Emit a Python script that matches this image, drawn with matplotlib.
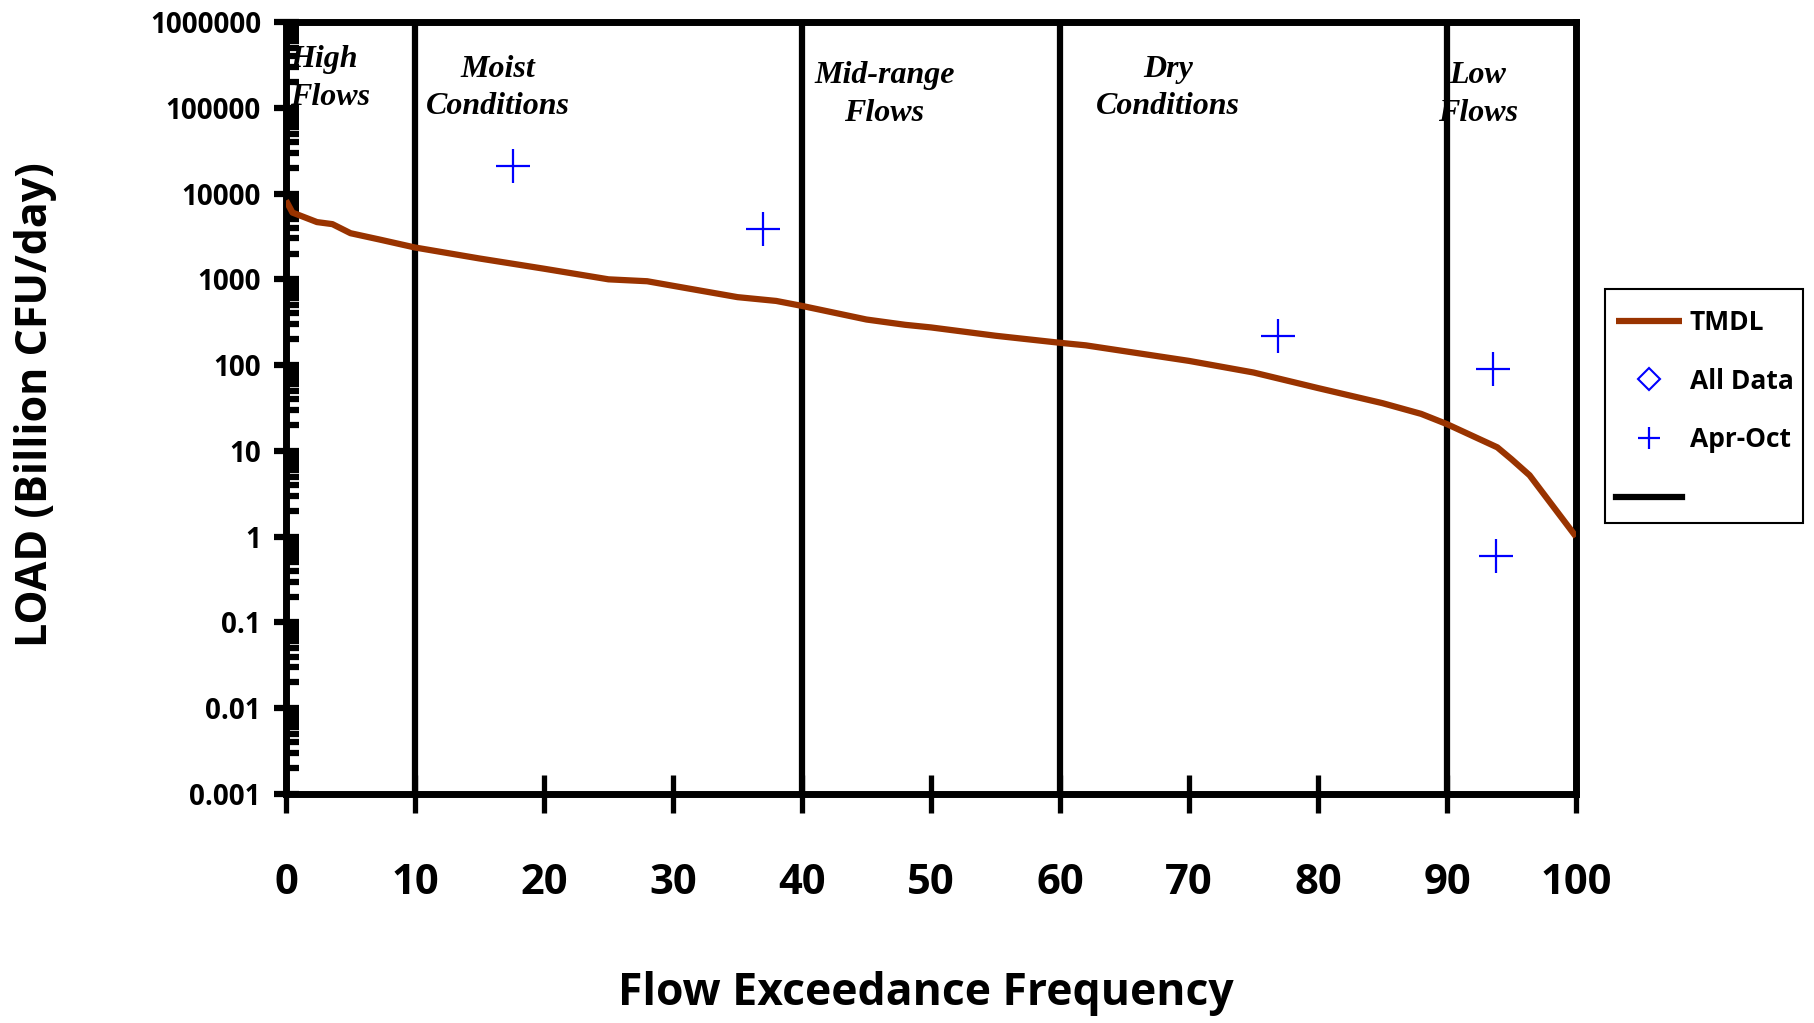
import matplotlib
matplotlib.use("Agg")
import matplotlib.pyplot as plt
from matplotlib.lines import Line2D
from matplotlib.patches import Rectangle
from matplotlib.ticker import FixedLocator, FixedFormatter, LogLocator, NullFormatter

# ---- data ----
tmdl_x = [0, 0.5, 2.4, 3.6, 5, 7.3, 10, 15, 20, 25, 28, 35, 38, 40, 45, 48, 50, 55, 60, 62,
          70, 75, 80, 85, 88, 90, 93.9, 95, 96.4, 100]
tmdl_y = [8300, 6000, 4650, 4400, 3450, 2900, 2350, 1750, 1330, 1000, 950, 620, 560,
          490, 340, 295, 275, 220, 182, 170, 112, 82, 54, 36, 27, 20.5, 11, 8, 5.2, 1.0]
aprocat_x = [17.6, 37.0, 76.9, 93.6, 93.8]
aprocat_y = [21000, 3850, 221, 89, 0.59]
alldata_x = []
alldata_y = []
boundaries = [10, 40, 60, 90]
region_labels = ["High\nFlows", "Moist\nConditions", "Mid-range\nFlows", "Dry\nConditions", "Low\nFlows"]
region_x = [0.3, 16.4, 46.4, 68.4, 92.4]
region_y = [2.2e5, 1.7e5, 1.43e5, 1.7e5, 1.43e5]
region_ha = ["left", "center", "center", "center", "center"]
ytick_vals = [0.001, 0.01, 0.1, 1, 10, 100, 1000, 10000, 100000, 1000000]
ytick_labels = ["0.001", "0.01", "0.1", "1", "10", "100", "1000", "10000", "100000", "1000000"]
xtick_vals = [0, 10, 20, 30, 40, 50, 60, 70, 80, 90, 100]

W, H = 1815, 1023
fig = plt.figure(figsize=(W / 100, H / 100), dpi=100)
ax = fig.add_axes([286 / W, 1 - 794 / H, (1576 - 286) / W, (794 - 22) / H])

SANS = "Open Sans"
BROWN = "#993300"
LW = 4.5

ax.set_yscale("log")
ax.set_xlim(0, 100)
ax.set_ylim(1e-3, 1e6)

# vertical boundaries
for b in boundaries:
    ax.axvline(b, color="black", lw=LW, zorder=2)

tmdl_line, = ax.plot(tmdl_x, tmdl_y, color=BROWN, lw=LW, solid_capstyle="butt", zorder=3, label="TMDL")
alld, = ax.plot(alldata_x, alldata_y, ls="none", marker="D", mfc="none", mec="blue", ms=11, mew=1.5,
                label="All Data")
apr, = ax.plot(aprocat_x, aprocat_y, ls="none", marker="+", color="blue", ms=25, mew=1.6, zorder=4,
               label="Apr-Oct")

for s in ax.spines.values():
    s.set_linewidth(5)
    s.set_color("black")

ax.yaxis.set_major_locator(FixedLocator(ytick_vals))
ax.yaxis.set_major_formatter(FixedFormatter(ytick_labels))
ax.yaxis.set_minor_locator(LogLocator(base=10, subs=range(2, 10), numticks=20))
ax.yaxis.set_minor_formatter(NullFormatter())
ax.tick_params(axis="y", which="major", direction="inout", length=18, width=LW, pad=9)
ax.tick_params(axis="y", which="minor", direction="in", length=9, width=LW)
ax.set_xticks(xtick_vals)
ax.tick_params(axis="x", which="major", direction="inout", length=27, width=3.8, pad=36)
for lab in ax.get_yticklabels():
    lab.set_fontfamily(SANS); lab.set_fontweight("bold"); lab.set_fontsize(20)
for lab in ax.get_xticklabels():
    lab.set_fontfamily(SANS); lab.set_fontweight("bold"); lab.set_fontsize(30)
for t in ax.yaxis.get_ticklines(minor=False) + ax.yaxis.get_ticklines(minor=True) + ax.xaxis.get_ticklines():
    t.set_solid_capstyle("round")

for lab, x, y, ha in zip(region_labels, region_x, region_y, region_ha):
    ax.text(x, y, lab, ha=ha, va="center", fontsize=23, fontweight="bold", fontstyle="italic",
            family="Liberation Serif", linespacing=1.4, zorder=5)

fig.text(926 / W, 1 - 993 / H, "Flow Exceedance Frequency", ha="center", va="center",
         fontsize=32, fontweight="bold", family=SANS)
fig.text(36 / W, 1 - 405 / H, "LOAD (Billion CFU/day)", ha="center", va="center", rotation=90,
         fontsize=31, fontweight="bold", family=SANS)

black_handle = Line2D([], [], color="black", lw=LW)
leg = fig.legend(handles=[tmdl_line, alld, apr, black_handle],
                 labels=["TMDL", "All Data", "Apr-Oct", ""],
                 loc="upper left", bbox_to_anchor=(1616 / W, 1 - 309 / H),
                 frameon=False,
                 prop={"family": SANS, "weight": "bold", "size": 19},
                 handlelength=2.5, handletextpad=0.3, labelspacing=1.2, borderpad=0,
                 borderaxespad=0)
for h in leg.legend_handles:
    if h.get_marker() == "+":
        h.set_markersize(16)
fig.patches.append(Rectangle((1605 / W, 1 - 523 / H), 198 / W, 234 / H, transform=fig.transFigure,
                             fill=False, edgecolor="black", lw=1.5))

fig.savefig("out.png", dpi=100)
